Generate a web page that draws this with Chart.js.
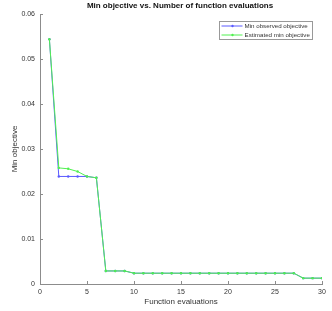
<!DOCTYPE html>
<html>
<head>
<meta charset="utf-8">
<script src="https://cdn.jsdelivr.net/npm/chart.js@4"></script>
<style>
  html, body { margin: 0; padding: 0; background: #fff; }
  #wrap { width: 332px; height: 311px; position: relative; }
</style>
</head>
<body>
<div id="wrap"><canvas id="chart" width="332" height="311"></canvas></div>
<script>
// DATA
const evaluations = [1,2,3,4,5,6,7,8,9,10,11,12,13,14,15,16,17,18,19,20,21,22,23,24,25,26,27,28,29,30];
const minObserved = [0.0544,0.0239,0.0239,0.0239,0.0239,0.0236,0.0029,0.0029,0.0029,0.0024,0.0024,0.0024,0.0024,0.0024,0.0024,0.0024,0.0024,0.0024,0.0024,0.0024,0.0024,0.0024,0.0024,0.0024,0.0024,0.0024,0.0024,0.0013,0.0013,0.0013];
const estimatedMin = [0.0544,0.0258,0.0256,0.0250,0.0239,0.0236,0.0029,0.0029,0.0029,0.0024,0.0024,0.0024,0.0024,0.0024,0.0024,0.0024,0.0024,0.0024,0.0024,0.0024,0.0024,0.0024,0.0024,0.0024,0.0024,0.0024,0.0024,0.0013,0.0013,0.0013];
const xTicks = [0,5,10,15,20,25,30];
const yTicks = [0,0.01,0.02,0.03,0.04,0.05,0.06];

const titleText = "Min objective vs. Number of function evaluations";
const xTitle = "Function evaluations";
const yTitle = "Min objective";
const seriesNames = ["Min observed objective", "Estimated min objective"];
const seriesColors = ["rgb(90,90,255)", "rgb(80,240,80)"];
const axisColor = "#8c8c8c";
const textColor = "#333";
const fontFam = "'Liberation Sans', Arial, sans-serif";

const ctx = document.getElementById("chart");

// draws title, axis titles, inward ticks and the boxed legend
const decorPlugin = {
  id: "decor",
  afterDraw(chart) {
    const c = chart.ctx;
    const area = chart.chartArea;
    const xs = chart.scales.x;
    const ys = chart.scales.y;
    c.save();

    // inward tick marks
    c.strokeStyle = axisColor;
    c.lineWidth = 1;
    c.beginPath();
    xTicks.forEach((t) => {
      const px = Math.round(xs.getPixelForValue(t)) + 0.5;
      c.moveTo(px, area.bottom);
      c.lineTo(px, area.bottom - 3);
    });
    yTicks.forEach((t) => {
      const py = Math.round(ys.getPixelForValue(t)) + 0.5;
      c.moveTo(area.left, py);
      c.lineTo(area.left + 3, py);
    });
    c.stroke();

    // title
    c.fillStyle = "#111";
    c.font = "bold 8px " + fontFam;
    c.textAlign = "center";
    c.textBaseline = "middle";
    c.fillText(titleText, 180, 6);

    // axis titles
    c.fillStyle = textColor;
    c.font = "8px " + fontFam;
    c.fillText(xTitle, (area.left + area.right) / 2, 302);
    c.translate(15, (area.top + area.bottom) / 2);
    c.rotate(-Math.PI / 2);
    c.fillText(yTitle, 0, 0);
    c.setTransform(1, 0, 0, 1, 0, 0);

    // legend box
    const bx = 219.5, by = 21.5, bw = 93, bh = 18;
    c.fillStyle = "#fff";
    c.fillRect(bx, by, bw, bh);
    c.strokeStyle = "#999";
    c.strokeRect(bx, by, bw, bh);
    c.font = "6.2px " + fontFam;
    c.textAlign = "left";
    seriesNames.forEach((name, i) => {
      const ly = by + 4.5 + i * 9;
      c.strokeStyle = seriesColors[i];
      c.beginPath();
      c.moveTo(bx + 2, ly);
      c.lineTo(bx + 23, ly);
      c.stroke();
      c.fillStyle = seriesColors[i];
      c.beginPath();
      c.arc(bx + 13, ly, 1.2, 0, Math.PI * 2);
      c.fill();
      c.fillStyle = textColor;
      c.fillText(name, bx + 25, ly);
    });
    c.restore();
  },
};

const myChart = new Chart(ctx, {
  type: "line",
  data: {
    labels: evaluations,
    datasets: [
      {
        label: seriesNames[0],
        data: evaluations.map((x, i) => ({ x: x, y: minObserved[i] })),
        borderColor: seriesColors[0],
        backgroundColor: seriesColors[0],
        borderWidth: 1,
        pointRadius: 1.2,
        pointBorderWidth: 0,
        tension: 0,
        order: 1,
      },
      {
        label: seriesNames[1],
        data: evaluations.map((x, i) => ({ x: x, y: estimatedMin[i] })),
        borderColor: seriesColors[1],
        backgroundColor: seriesColors[1],
        borderWidth: 1,
        pointRadius: 1.2,
        pointBorderWidth: 0,
        tension: 0,
        order: 0,
      },
    ],
  },
  options: {
    responsive: false,
    animation: false,
    maintainAspectRatio: false,
    layout: { padding: { top: 14, right: 10, left: 0, bottom: 0 } },
    plugins: {
      legend: { display: false },
      title: { display: false },
      tooltip: { enabled: false },
    },
    scales: {
      x: {
        type: "linear",
        min: 0,
        max: 30,
        afterFit: (s) => { s.height = 27; },
        afterBuildTicks: (s) => { s.ticks = xTicks.map((v) => ({ value: v })); },
        grid: { display: false, drawTicks: false },
        border: { display: true, color: axisColor },
        ticks: {
          color: textColor,
          font: { size: 7, family: fontFam },
          padding: 4,
          maxRotation: 0,
        },
      },
      y: {
        min: 0,
        max: 0.06,
        afterFit: (s) => { s.width = 40; },
        afterBuildTicks: (s) => { s.ticks = yTicks.map((v) => ({ value: v })); },
        grid: { display: false, drawTicks: false },
        border: { display: true, color: axisColor },
        ticks: {
          color: textColor,
          font: { size: 7, family: fontFam },
          padding: 5,
          callback: (v) => (v === 0 ? "0" : v.toFixed(2)),
        },
      },
    },
  },
  plugins: [decorPlugin],
});
</script>
</body>
</html>
